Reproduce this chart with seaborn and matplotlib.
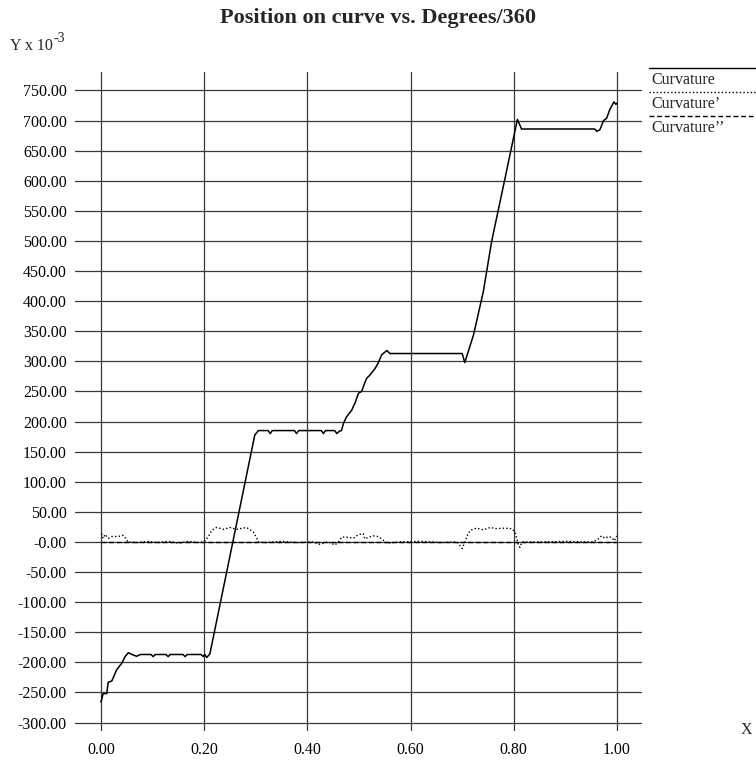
import matplotlib
matplotlib.use("Agg")
import matplotlib.pyplot as plt
from matplotlib.lines import Line2D
import seaborn as sns

sns.set_theme(style="white")
plt.rcParams["font.family"] = ["Liberation Serif", "DejaVu Serif"]

# ---- data -------------------------------------------------------------
curv_x = [0.000, 0.004, 0.011, 0.014, 0.021, 0.030, 0.037, 0.040, 0.047, 0.053, 0.060, 0.069, 0.076,
          0.097, 0.101, 0.105, 0.126, 0.130, 0.134, 0.159, 0.163, 0.167, 0.194, 0.198, 0.201, 0.205, 0.211,
          0.298, 0.305, 0.324, 0.328, 0.332, 0.375, 0.379, 0.383, 0.427, 0.431, 0.435, 0.453, 0.457, 0.462, 0.466,
          0.470, 0.476, 0.486, 0.489, 0.492, 0.499, 0.505, 0.512, 0.515, 0.521, 0.531, 0.537, 0.544, 0.554, 0.560,
          0.700, 0.705, 0.722, 0.741, 0.757, 0.783, 0.807, 0.815, 0.957, 0.961, 0.967, 0.974, 0.980, 0.986,
          0.994, 0.998, 1.000]
curv_y = [-266, -252, -252, -233, -231, -213, -205, -202, -190, -184, -187, -190, -187,
          -187, -190.5, -187, -187, -190.5, -187, -187, -190.5, -187, -187, -190.5, -187, -192, -186,
          177.5, 185, 185, 180, 185, 185, 180, 185, 185, 180, 185, 185, 180, 184, 185,
          197, 208, 219, 225, 230, 247, 250, 266, 272, 277, 288, 297, 311, 318, 313,
          313, 298, 344, 416, 499, 604, 702, 686, 686, 682, 685, 700, 704, 718,
          731, 727, 729]

d1_x = [0.001, 0.004, 0.008, 0.014, 0.021, 0.033, 0.043, 0.048, 0.052,
        0.070, 0.090, 0.110, 0.130, 0.150, 0.170, 0.190, 0.200,
        0.208, 0.2145, 0.224, 0.237, 0.250, 0.263, 0.282, 0.295, 0.302, 0.305,
        0.320, 0.350, 0.380, 0.410, 0.424, 0.440, 0.4535, 0.460,
        0.4665, 0.476, 0.489, 0.4986, 0.508, 0.5116, 0.518, 0.5277, 0.537, 0.544, 0.554,
        0.580, 0.620, 0.660, 0.690,
        0.700, 0.7054, 0.712, 0.718, 0.728, 0.741, 0.754, 0.767, 0.783, 0.796, 0.802,
        0.8056, 0.8087, 0.812, 0.815, 0.818,
        0.850, 0.900, 0.940,
        0.954, 0.964, 0.970, 0.977, 0.983, 0.990, 0.995, 0.9994]
d1_y = [14, 6, 12.5, 6, 9, 9, 11, 6, 0,
        -1, 1, -1, 1, -2, 1, -1, 0,
        9, 19, 24, 21, 24, 21, 24, 17, 6, 0,
        -1, 1, -1, 0, -4, 0, -5, 0,
        8, 8, 6, 12, 14, 5, 7.5, 10, 9, 5, -2,
        0, 1, -1, 0,
        -11, 0, 15, 20, 23, 20, 24, 22, 23, 22, 17,
        6, -5, -9, -2, 0,
        0, 1, 0,
        0, 5, 10, 6, 9, 7.5, 2, 10]

d2_x = [0.00, 0.10, 0.20, 0.30, 0.40, 0.50, 0.60, 0.70, 0.80, 0.90, 1.00]
d2_y = [0, 0, 0, 0, 0, 0, 0, 0, 0, 0, 0]

x_ticks = [0.0, 0.2, 0.4, 0.6, 0.8, 1.0]
x_tick_labels = ["0.00", "0.20", "0.40", "0.60", "0.80", "1.00"]
y_ticks = [-300, -250, -200, -150, -100, -50, 0, 50, 100, 150, 200, 250, 300,
           350, 400, 450, 500, 550, 600, 650, 700, 750]
y_tick_labels = ["-300.00", "-250.00", "-200.00", "-150.00", "-100.00", "-50.00", "-0.00",
                 "50.00", "100.00", "150.00", "200.00", "250.00", "300.00", "350.00",
                 "400.00", "450.00", "500.00", "550.00", "600.00", "650.00", "700.00", "750.00"]
series_names = ["Curvature", "Curvature\u2019", "Curvature\u2019\u2019"]

# ---- figure -----------------------------------------------------------
W, H = 756, 761
fig = plt.figure(figsize=(W / 100, H / 100), dpi=100)
ax = fig.add_axes([75 / W, 1 - 730.7 / H, 567 / W, 658.7 / H])

styles = ["-", (0, (1, 1.6)), (0, (3.5, 2))]
widths = [1.1, 1.0, 1.0]
for xs, ys, ls, lw in zip([curv_x, d1_x, d2_x], [curv_y, d1_y, d2_y], styles, widths):
    sns.lineplot(x=xs, y=ys, ax=ax, color="black", linestyle=ls, linewidth=lw,
                 sort=False, estimator=None, legend=False)

ax.set_xlim(-0.0504, 1.0485)
ax.set_ylim(-313.6, 780.7)
ax.set_xticks(x_ticks)
ax.set_xticklabels(x_tick_labels)
ax.set_yticks(y_ticks)
ax.set_yticklabels(y_tick_labels)
ax.tick_params(axis="both", length=0, labelsize=11.5, colors="black")
ax.tick_params(axis="x", pad=8)
ax.tick_params(axis="y", pad=6)
ax.grid(True, color="#383838", linewidth=0.9)
for s in ax.spines.values():
    s.set_visible(False)
ax.set_xlabel("")
ax.set_ylabel("")

fig.text(0.5, 1 - 18 / H, "Position on curve vs. Degrees/360", ha="center", va="center",
         fontsize=16, fontweight="bold")
fig.text(10 / W, 1 - 46 / H, "Y x 10", ha="left", va="center", fontsize=11.5)
fig.text(54 / W, 1 - 38 / H, "-3", ha="left", va="center", fontsize=10)
fig.text(746 / W, 1 - 730 / H, "X", ha="center", va="center", fontsize=11.5)

# key on the right: sample line above each name
for i, (name, ls) in enumerate(zip(series_names, styles)):
    ly = 1 - (68 + 24 * i) / H
    fig.add_artist(Line2D([649 / W, 1.0], [ly, ly], color="black", linestyle=ls,
                          linewidth=1.0, transform=fig.transFigure))
    fig.text(651 / W, 1 - (80 + 24 * i) / H, name, ha="left", va="center", fontsize=11.5)

fig.savefig("out.png", dpi=100)
